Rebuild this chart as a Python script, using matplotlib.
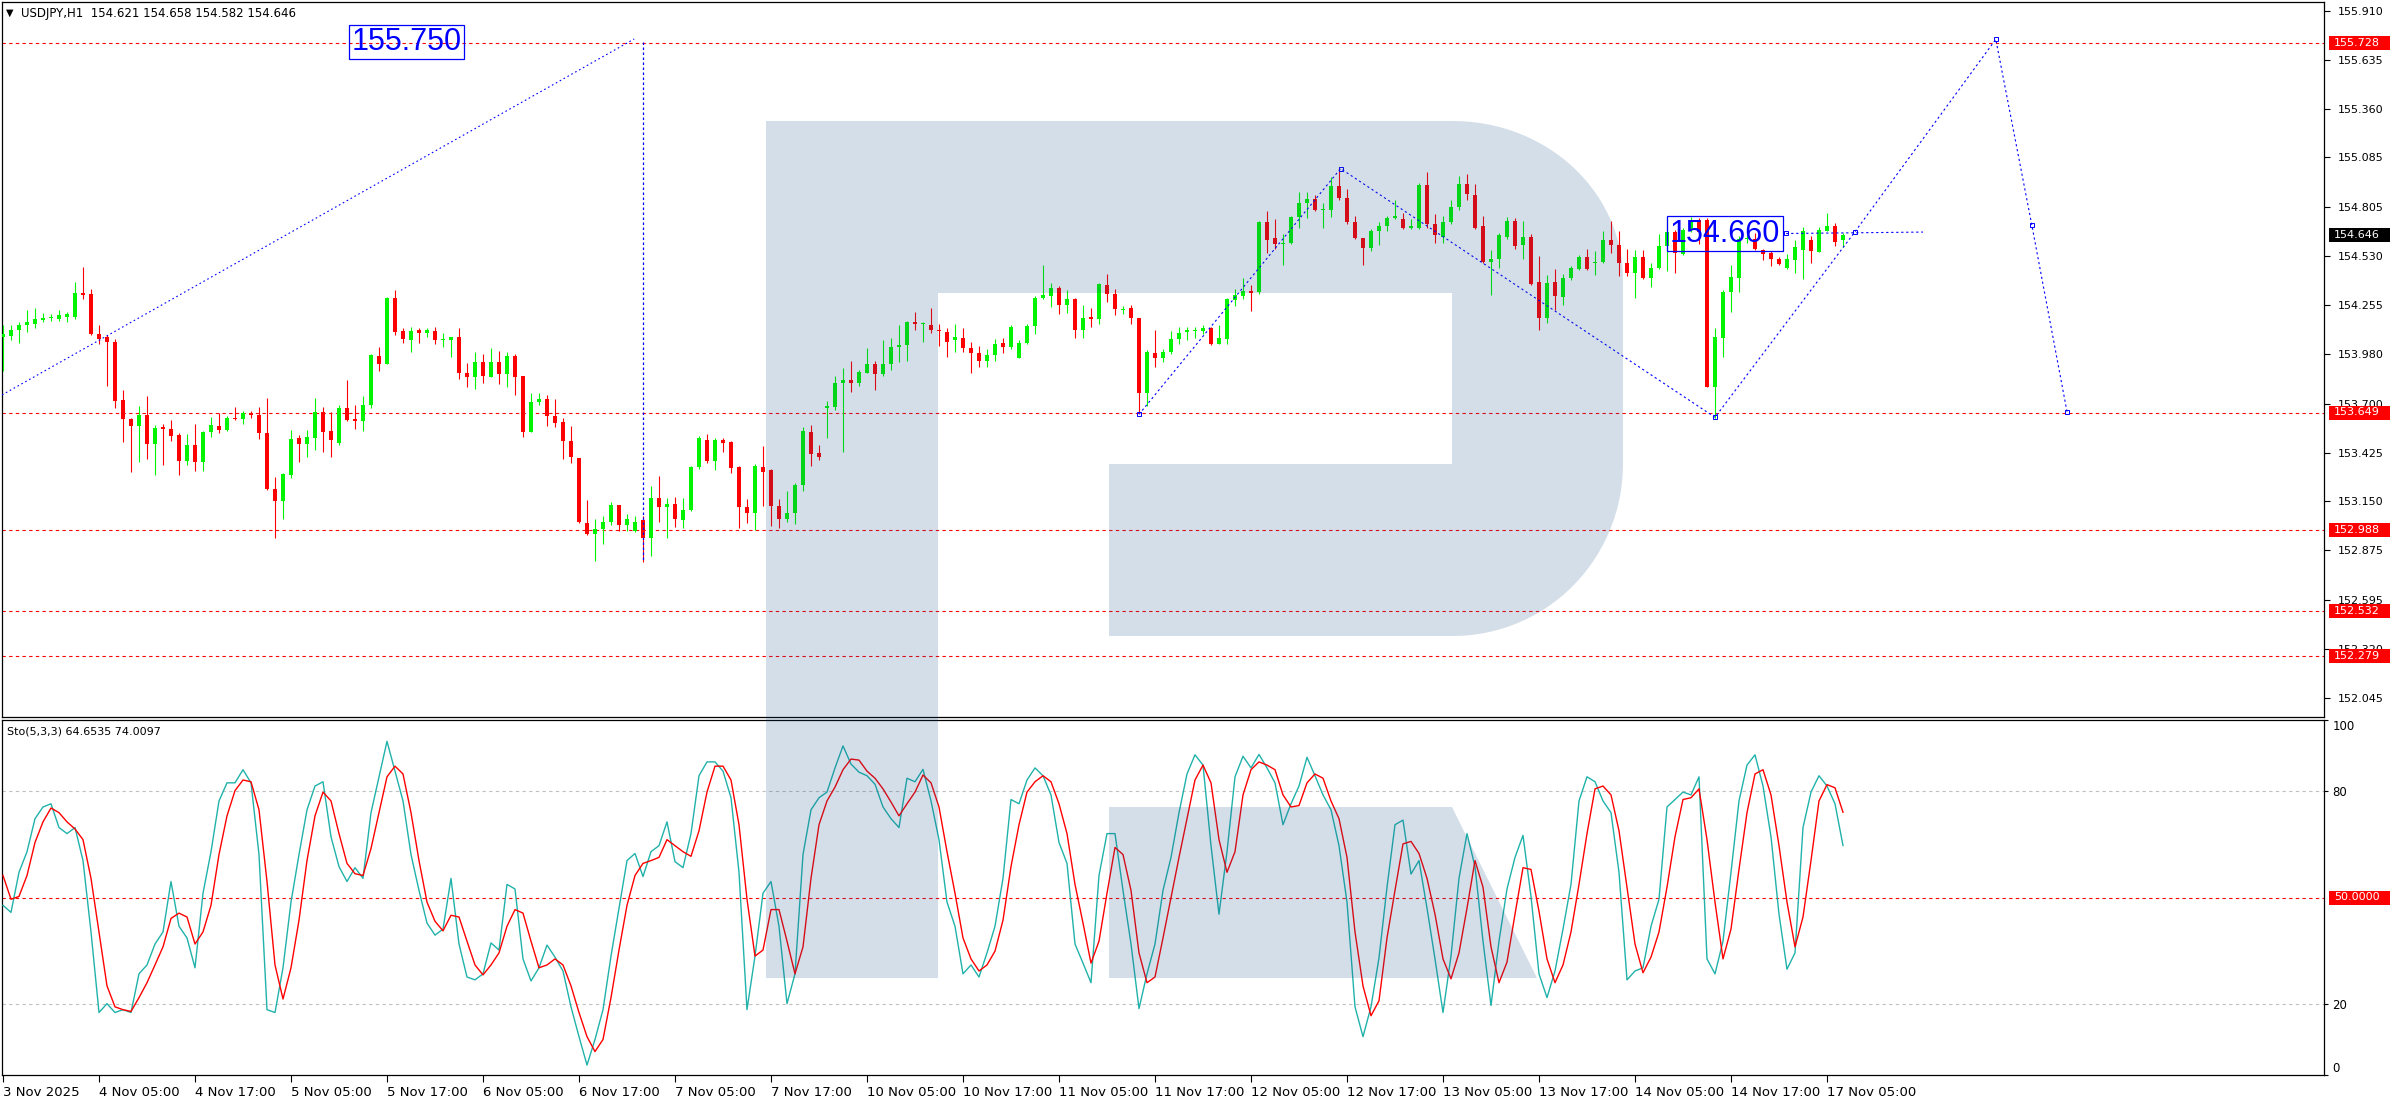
import matplotlib
matplotlib.use('Agg')
import matplotlib.pyplot as plt
from matplotlib.patches import Polygon, Rectangle
import numpy as np

# ---------------- data ----------------
opens = [154.076,154.083,154.116,154.140,154.150,154.173,154.180,154.177,154.190,154.190,
 154.321,154.318,154.093,154.073,154.049,153.721,153.613,153.573,153.637,153.473,
 153.566,153.556,153.523,153.379,153.469,153.372,153.540,153.573,153.550,153.620,
 153.613,153.647,153.637,153.533,153.221,153.150,153.298,153.506,153.473,153.506,
 153.654,153.546,153.479,153.677,153.613,153.600,153.694,153.969,153.925,154.294,
 154.110,154.059,154.113,154.100,154.110,154.056,154.056,154.076,153.875,153.851,
 153.935,153.851,153.935,153.868,153.969,153.855,153.540,153.707,153.727,153.630,
 153.597,153.489,153.395,153.030,152.969,152.996,153.036,153.130,153.016,152.986,
 153.047,152.943,153.171,153.117,153.137,153.043,153.100,153.342,153.496,153.379,
 153.493,153.486,153.342,153.117,153.083,153.345,153.328,153.124,153.050,153.083,
 153.244,153.543,153.422,153.674,153.680,153.815,153.835,153.815,153.875,153.922,
 153.865,153.925,154.019,154.029,154.160,154.147,154.143,154.116,154.103,154.056,
 154.070,154.012,153.986,153.942,153.972,154.043,154.016,153.959,154.039,154.137,
 154.294,154.308,154.351,154.254,154.288,154.113,154.187,154.177,154.368,154.318,
 154.227,154.237,154.180,153.758,153.986,153.955,153.989,154.063,154.103,154.106,
 154.106,154.123,154.033,154.066,154.284,154.304,154.331,154.328,154.724,154.630,
 154.599,154.603,154.747,154.831,154.851,154.787,154.787,154.925,154.854,154.720,
 154.630,154.576,154.670,154.697,154.744,154.737,154.690,154.690,154.928,154.713,
 154.640,154.720,154.804,154.938,154.871,154.697,154.499,154.512,154.640,154.730,
 154.593,154.636,154.385,154.184,154.385,154.298,154.405,154.458,154.526,154.492,
 154.499,154.620,154.593,154.489,154.432,154.526,154.405,154.465,154.586,154.665,
 154.542,154.677,154.733,154.733,153.792,154.071,154.326,154.409,154.624,154.624,
 154.564,154.545,154.515,154.465,154.506,154.564,154.620,154.555,154.673,154.699,
 154.621]
highs = [154.143,154.143,154.160,154.227,154.237,154.210,154.204,154.227,154.217,154.385,
 154.469,154.344,154.143,154.086,154.066,153.778,153.620,153.687,153.744,153.580,
 153.586,153.607,153.533,153.530,153.586,153.546,153.627,153.647,153.630,153.680,
 153.657,153.657,153.680,153.731,153.288,153.312,153.550,153.523,153.550,153.731,
 153.680,153.654,153.694,153.831,153.690,153.741,153.982,154.019,154.298,154.341,
 154.126,154.130,154.123,154.126,154.130,154.096,154.076,154.126,153.929,153.992,
 153.982,154.012,153.996,153.989,153.982,153.855,153.761,153.761,153.751,153.727,
 153.620,153.573,153.395,153.157,153.050,153.070,153.147,153.130,153.077,153.070,
 153.070,153.238,153.295,153.167,153.174,153.167,153.352,153.516,153.530,153.506,
 153.506,153.489,153.352,153.161,153.362,153.462,153.332,153.164,153.211,153.255,
 153.570,153.580,153.469,153.717,153.855,153.902,153.939,153.892,154.012,153.939,
 154.059,154.070,154.143,154.163,154.217,154.160,154.237,154.150,154.126,154.150,
 154.126,154.049,154.026,154.009,154.063,154.070,154.143,154.059,154.150,154.304,
 154.479,154.378,154.361,154.338,154.294,154.254,154.237,154.378,154.428,154.344,
 154.251,154.254,154.180,153.999,154.116,154.009,154.110,154.133,154.133,154.133,
 154.143,154.133,154.143,154.294,154.344,154.405,154.368,154.730,154.781,154.740,
 154.653,154.754,154.891,154.888,154.874,154.831,154.975,155.029,154.908,154.757,
 154.630,154.680,154.720,154.754,154.848,154.774,154.737,154.942,155.002,154.767,
 154.754,154.848,154.982,154.992,154.938,154.757,154.562,154.660,154.750,154.744,
 154.727,154.653,154.529,154.422,154.458,154.428,154.472,154.536,154.569,154.559,
 154.670,154.727,154.670,154.569,154.562,154.562,154.489,154.653,154.740,154.677,
 154.690,154.752,154.742,154.742,154.124,154.339,154.480,154.643,154.648,154.658,
 154.572,154.558,154.527,154.540,154.620,154.692,154.643,154.695,154.774,154.718,
 154.658]
lows = [153.882,154.056,154.043,154.103,154.123,154.157,154.167,154.167,154.160,154.177,
 154.288,154.086,154.033,153.798,153.674,153.483,153.318,153.372,153.389,153.298,
 153.355,153.489,153.298,153.355,153.322,153.322,153.513,153.533,153.546,153.607,
 153.583,153.617,153.499,153.214,152.946,153.053,153.281,153.372,153.399,153.439,
 153.429,153.399,153.466,153.603,153.556,153.546,153.674,153.882,153.922,154.086,
 154.039,153.992,154.043,154.073,154.036,154.016,153.965,153.838,153.791,153.781,
 153.815,153.848,153.811,153.791,153.748,153.513,153.540,153.690,153.573,153.570,
 153.389,153.365,153.026,152.963,152.815,152.909,153.020,152.986,152.983,152.980,
 152.812,152.845,153.036,152.946,153.006,153.000,153.097,153.335,153.368,153.328,
 153.426,153.312,153.000,153.026,152.990,153.124,153.010,153.000,153.036,153.023,
 153.208,153.348,153.382,153.506,153.667,153.426,153.764,153.801,153.875,153.774,
 153.855,153.888,153.935,153.939,154.116,154.046,154.100,154.022,153.965,153.989,
 153.992,153.872,153.908,153.905,153.939,153.986,154.009,153.959,154.033,154.093,
 154.291,154.244,154.207,154.210,154.070,154.070,154.133,154.147,154.271,154.197,
 154.204,154.150,153.647,153.687,153.908,153.932,153.982,154.033,154.056,154.070,
 154.093,154.029,154.033,154.033,154.251,154.291,154.220,154.318,154.546,154.569,
 154.479,154.596,154.690,154.744,154.784,154.687,154.750,154.844,154.713,154.626,
 154.479,154.556,154.593,154.673,154.740,154.683,154.680,154.683,154.690,154.606,
 154.606,154.713,154.791,154.844,154.680,154.492,154.311,154.465,154.626,154.569,
 154.516,154.368,154.113,154.153,154.224,154.257,154.395,154.452,154.452,154.422,
 154.492,154.546,154.418,154.418,154.294,154.402,154.358,154.458,154.445,154.437,
 154.536,154.667,154.600,153.792,153.617,153.964,154.215,154.330,154.602,154.564,
 154.508,154.474,154.480,154.455,154.433,154.399,154.489,154.553,154.671,154.587,
 154.582]
closes = [154.093,154.116,154.143,154.157,154.177,154.184,154.187,154.197,154.204,154.324,
 154.311,154.093,154.066,154.049,153.717,153.613,153.573,153.637,153.473,153.563,
 153.556,153.516,153.379,153.469,153.372,153.540,153.580,153.550,153.620,153.613,
 153.650,153.637,153.533,153.221,153.150,153.305,153.499,153.473,153.513,153.654,
 153.543,153.493,153.677,153.610,153.603,153.694,153.972,153.925,154.294,154.103,
 154.066,154.110,154.100,154.113,154.056,154.063,154.076,153.875,153.851,153.932,
 153.855,153.935,153.868,153.969,153.851,153.540,153.711,153.727,153.633,153.593,
 153.489,153.399,153.033,152.969,152.996,153.036,153.130,153.016,153.050,153.036,
 152.943,153.171,153.117,153.137,153.050,153.100,153.345,153.506,153.379,153.496,
 153.479,153.338,153.117,153.083,153.348,153.318,153.124,153.050,153.083,153.244,
 153.546,153.419,153.399,153.687,153.815,153.835,153.815,153.878,153.922,153.865,
 153.925,154.019,154.029,154.160,154.147,154.153,154.116,154.106,154.049,154.073,
 154.012,153.986,153.942,153.976,154.033,154.016,154.130,154.039,154.137,154.294,
 154.311,154.351,154.254,154.288,154.113,154.180,154.177,154.371,154.318,154.230,
 154.234,154.180,153.758,153.989,153.955,153.992,154.063,154.096,154.113,154.113,
 154.123,154.033,154.070,154.288,154.311,154.331,154.324,154.724,154.623,154.596,
 154.606,154.747,154.831,154.851,154.791,154.794,154.925,154.854,154.724,154.630,
 154.576,154.670,154.697,154.744,154.754,154.690,154.697,154.931,154.713,154.646,
 154.720,154.807,154.938,154.881,154.690,154.499,154.512,154.646,154.730,154.589,
 154.636,154.375,154.184,154.378,154.304,154.408,154.462,154.526,154.458,154.499,
 154.620,154.593,154.489,154.432,154.526,154.405,154.465,154.586,154.666,154.545,
 154.677,154.729,154.667,153.792,154.073,154.330,154.412,154.624,154.630,154.568,
 154.540,154.512,154.485,154.512,154.583,154.673,154.560,154.677,154.699,154.611,
 154.646]

stoch_k = [47.8,45.8,57.1,62.9,72.2,75.5,76.4,69.7,68.0,69.7,
 60.4,40.3,17.6,20.1,17.6,18.4,17.6,28.5,31.0,36.9,
 40.3,54.5,41.9,38.6,30.2,51.2,62.9,77.2,82.3,82.3,
 86.0,82.3,62.1,18.4,17.6,30.2,48.7,62.1,74.7,81.4,
 82.6,67.1,58.7,54.5,58.4,55.4,73.9,84.0,94.0,85.6,
 77.2,62.1,52.0,42.8,39.4,41.1,55.4,36.9,27.6,26.8,
 28.5,37.2,35.2,53.7,52.4,32.7,26.5,30.2,36.6,33.2,
 29.3,19.2,10.8,2.8,10.0,18.4,33.5,47.0,60.4,62.4,
 55.9,62.9,64.6,71.3,60.1,58.4,68.0,84.3,88.2,88.2,
 85.6,78.1,57.1,18.4,33.5,51.2,54.5,41.9,20.1,28.5,
 62.1,74.7,78.1,79.7,86.5,92.7,87.6,85.3,84.3,81.9,
 75.5,72.2,69.7,83.6,82.6,86.1,77.2,66.3,48.7,41.9,
 28.5,31.0,27.6,34.4,41.9,55.4,77.6,76.4,83.1,86.5,
 84.3,78.9,65.5,59.6,36.9,31.5,26.0,56.2,68.0,68.0,
 52.0,36.9,18.7,28.5,36.9,52.0,61.3,73.9,84.8,90.2,
 87.3,64.6,45.3,62.9,84.0,89.8,86.5,90.3,86.5,82.3,
 70.5,76.4,81.4,89.5,84.3,78.9,74.7,64.6,48.7,19.2,
 10.8,19.2,33.0,52.9,70.5,71.8,56.6,60.4,47.0,32.7,
 17.6,33.5,55.4,68.0,58.7,37.7,19.6,37.7,52.4,61.3,
 67.5,50.3,28.5,21.8,29.3,41.1,53.7,77.2,84.0,82.6,
 77.2,73.9,57.1,26.8,29.3,30.2,41.9,49.5,75.5,77.6,
 79.7,78.9,84.0,32.7,28.5,37.7,57.1,77.2,87.3,90.2,
 81.4,67.1,45.3,29.8,34.4,69.7,79.7,84.3,81.4,76.4,
 64.65]
stoch_d = [56.2,49.5,50.3,56.2,65.5,71.3,75.2,73.9,71.3,69.3,
 66.3,55.4,40.3,25.1,19.2,18.4,17.9,21.8,26.0,31.0,
 36.1,44.1,45.6,44.5,36.9,40.3,47.8,62.1,73.0,80.1,
 83.1,82.6,74.7,54.5,31.0,21.4,30.2,43.6,60.4,73.0,
 79.7,77.2,68.0,59.6,56.7,56.2,63.8,73.9,84.0,87.0,
 84.8,73.9,60.4,48.7,43.3,40.6,45.0,44.5,37.7,31.0,
 28.2,31.0,34.4,41.9,46.6,45.6,37.7,30.2,31.0,32.7,
 31.0,25.1,17.6,10.8,6.6,10.0,21.8,35.2,47.8,56.2,
 59.6,60.4,61.3,66.3,64.6,62.9,61.6,68.8,79.7,87.0,
 87.0,83.1,70.5,49.5,33.5,35.2,46.6,46.6,37.7,28.5,
 36.1,55.4,70.5,77.2,81.1,86.0,89.0,88.7,85.6,83.6,
 80.6,76.9,73.0,76.4,79.7,84.5,82.3,75.5,62.9,51.2,
 38.6,32.7,29.3,31.0,34.9,43.6,58.7,70.5,79.7,82.6,
 84.3,82.6,76.4,68.0,53.7,42.8,31.5,37.7,51.2,64.1,
 62.1,52.0,34.4,26.0,27.6,38.6,50.0,61.3,72.2,83.1,
 87.3,82.3,66.3,57.1,62.9,78.9,86.0,88.2,87.3,86.0,
 78.9,75.5,75.9,82.3,84.8,83.6,77.2,72.2,61.3,40.3,
 25.1,16.7,20.9,38.6,52.0,65.1,65.8,62.4,55.4,45.3,
 32.7,27.1,34.4,47.0,60.4,52.9,36.1,26.0,31.8,45.3,
 58.4,57.9,46.1,32.7,26.0,31.0,40.3,53.7,68.0,80.6,
 81.4,78.9,68.8,52.9,36.9,28.8,33.2,40.3,52.9,67.1,
 77.6,78.1,80.6,66.3,48.7,32.7,41.1,57.9,73.9,84.8,
 86.0,78.9,64.6,48.7,36.1,44.5,60.4,77.2,81.8,80.9,
 74.01]

time_labels = ["3 Nov 2025", "4 Nov 05:00", "4 Nov 17:00", "5 Nov 05:00", "5 Nov 17:00",
               "6 Nov 05:00", "6 Nov 17:00", "7 Nov 05:00", "7 Nov 17:00", "10 Nov 05:00",
               "10 Nov 17:00", "11 Nov 05:00", "11 Nov 17:00", "12 Nov 05:00", "12 Nov 17:00",
               "13 Nov 05:00", "13 Nov 17:00", "14 Nov 05:00", "14 Nov 17:00", "17 Nov 05:00"]
label_bars = [0, 12, 24, 36, 48, 60, 72, 84, 96, 108, 120, 132, 144, 156, 168, 180, 192, 204, 216, 228]

price_ticks = [155.910, 155.635, 155.360, 155.085, 154.805, 154.530, 154.255, 153.980,
               153.700, 153.425, 153.150, 152.875, 152.595, 152.320, 152.045]
levels = [155.728, 153.649, 152.988, 152.532, 152.279]
last_price = 154.646
header = "USDJPY,H1  154.621 154.658 154.582 154.646"
stoch_title = "Sto(5,3,3) 64.6535 74.0097"

# analyst drawings (bar index, price)
rise_line = [(-0.125, 153.749), (78.9, 155.751)]
drop_line = [(80, 155.733), (80, 152.812)]
zigzag = [(142, 153.640), (167.2, 155.022), (214, 153.623), (231.5, 154.667),
          (249.1, 155.749), (253.6, 154.705), (258.0, 153.655)]
flat_line = [(222.9, 154.657), (240, 154.665)]
target_label = (50.4, 155.734, "155.750")
pivot_label = (215.25, 154.655, "154.660")

# ---------------- figure ----------------
W, H = 2390, 1100
fig = plt.figure(figsize=(W / 100, H / 100), dpi=100)
fig.patch.set_facecolor('white')

def fx(px):
    return px / W

def fy(py):
    return 1 - py / H

ax = fig.add_axes([fx(2), fy(717), fx(2324) - fx(2), fy(2) - fy(717)])
ax2 = fig.add_axes([fx(2), fy(1075), fx(2324) - fx(2), fy(720) - fy(1075)])

XL = (-0.125, 290.125)
for a in (ax, ax2):
    a.set_xlim(*XL)
    a.set_facecolor('none')
    for s in a.spines.values():
        s.set_linewidth(0.9)
        s.set_color('black')
ax.set_ylim(151.9376, 155.959)
ax2.set_ylim(0, 100)

o = np.array(opens); h = np.array(highs); l = np.array(lows); c = np.array(closes)
idx = np.arange(len(o))
up = c >= o
cols = np.where(up, '#00f400', '#ff0000')
ax.vlines(idx, l, h, colors=cols, linewidth=0.8, zorder=3)
body = np.maximum(np.abs(c - o), 0.005)
ax.bar(idx, body, bottom=np.minimum(o, c), width=0.62, color=cols, linewidth=0, zorder=3)

for lv in levels:
    ax.axhline(lv, color='#ff0000', lw=0.8, ls=(0, (3, 3)), zorder=2)

blue = '#0000ff'
ax.plot(*zip(*rise_line), color=blue, lw=0.8, ls=(0, (1.5, 2.5)), zorder=4)
ax.plot(*zip(*drop_line), color=blue, lw=0.9, ls=(0, (2, 2)), zorder=4)
ax.plot(*zip(*zigzag), color=blue, lw=0.8, ls=(0, (2, 2.5)), zorder=4)
ax.plot([p[0] for p in zigzag], [p[1] for p in zigzag], ls='none', marker='s',
        ms=3, mfc='none', mec=blue, mew=0.7, zorder=4)
ax.plot(*zip(*flat_line), color=blue, lw=0.8, ls=(0, (2, 2.5)), zorder=4)
ax.plot([flat_line[0][0]], [flat_line[0][1]], ls='none', marker='s', ms=3,
        mfc='none', mec=blue, mew=0.7, zorder=4)

big_font = ['Liberation Sans', 'DejaVu Sans']
for (bx, by, txt) in (target_label, pivot_label):
    ax.text(bx, by, txt, color=blue, fontsize=22, family=big_font, ha='center', va='center',
            zorder=6, bbox=dict(boxstyle='square,pad=0.08', fc='none', ec=blue, lw=0.9))

# price axis on the right
ax.yaxis.tick_right()
ax.set_yticks(price_ticks)
ax.set_yticklabels([f"{v:.3f}" for v in price_ticks])
ax.tick_params(axis='y', length=4, width=0.8, pad=6, labelsize=8, direction='out')
ax.set_xticks([])

# stochastic panel
ax2.axhline(80, color='#c0c0c0', lw=0.8, ls=(0, (3, 3)), zorder=1)
ax2.axhline(20, color='#c0c0c0', lw=0.8, ls=(0, (3, 3)), zorder=1)
ax2.axhline(50, color='#ff0000', lw=0.8, ls=(0, (3, 3)), zorder=1)
ax2.plot(idx, stoch_k, color='#20b2aa', lw=1.0, zorder=3)
ax2.plot(idx, stoch_d, color='#ff0000', lw=1.0, zorder=3)
ax2.yaxis.tick_right()
ax2.set_yticks([0, 20, 80, 100])
ax2.set_yticklabels(['0', '20', '80', '100'])
ax2.tick_params(axis='y', length=3, width=0.8, pad=3, labelsize=8.5, direction='out')
tl = ax2.get_yticklabels()
tl[0].set_va('bottom')
tl[3].set_va('top')
ax2.set_xticks(label_bars)
ax2.set_xticklabels(time_labels, ha='left', fontsize=9.5,
                    family=['Liberation Sans Narrow', 'DejaVu Sans'])
ax2.tick_params(axis='x', length=5, width=0.8, pad=3, direction='out')

# header texts
fig.text(fx(6), fy(13), "\u25BC", fontsize=7, va='center', ha='left', color='black')
fig.text(fx(21), fy(13), header, fontsize=8.5, va='center', ha='left', color='black',
         family=['Liberation Sans Narrow', 'DejaVu Sans'])
fig.text(fx(7), fy(731), stoch_title, fontsize=8, va='center', ha='left', color='black')

fig.canvas.draw()

def right_box(axis, val, txt, fc):
    yd = axis.transData.transform((0, val))[1]
    fig.patches.append(Rectangle((fx(2329), (yd - 7) / H), 61 / W, 14 / H,
                                 transform=fig.transFigure, facecolor=fc,
                                 edgecolor='none', zorder=5))
    fig.text(fx(2334), (yd + 0.5) / H, txt, color='white', fontsize=8, va='center',
             ha='left', zorder=6)

for lv in levels:
    right_box(ax, lv, f"{lv:.3f}", '#ff0000')
right_box(ax, last_price, f"{last_price:.3f}", 'black')
right_box(ax2, 50, "50.0000", '#ff0000')

# watermark logo (translucent overlay)
logo_c = (22 / 255, 77 / 255, 138 / 255)

def px_poly(pts):
    return [(fx(x), fy(y)) for x, y in pts]

t1 = np.linspace(np.pi / 2, 0, 30)
arc_top = [(1453 + 170 * np.cos(t), 279 - 158 * np.sin(t)) for t in t1]
t2 = np.linspace(0, np.pi / 2, 30)
arc_bot = [(1453 + 170 * np.cos(t), 464 + 172 * np.sin(t)) for t in t2]
bowl = [(938, 121)] + arc_top + arc_bot + [(1109, 636), (1109, 464), (1452, 464),
                                           (1452, 293), (938, 293)]
stem = [(766, 121), (938, 121), (938, 978), (766, 978)]
leg = [(1109, 807), (1452, 807), (1537, 978), (1109, 978)]
for shape in (bowl, stem, leg):
    fig.patches.append(Polygon(px_poly(shape), closed=True, transform=fig.transFigure,
                               facecolor=logo_c, alpha=0.18, edgecolor='none', zorder=4))

fig.savefig('out.png', dpi=100, facecolor='white')
